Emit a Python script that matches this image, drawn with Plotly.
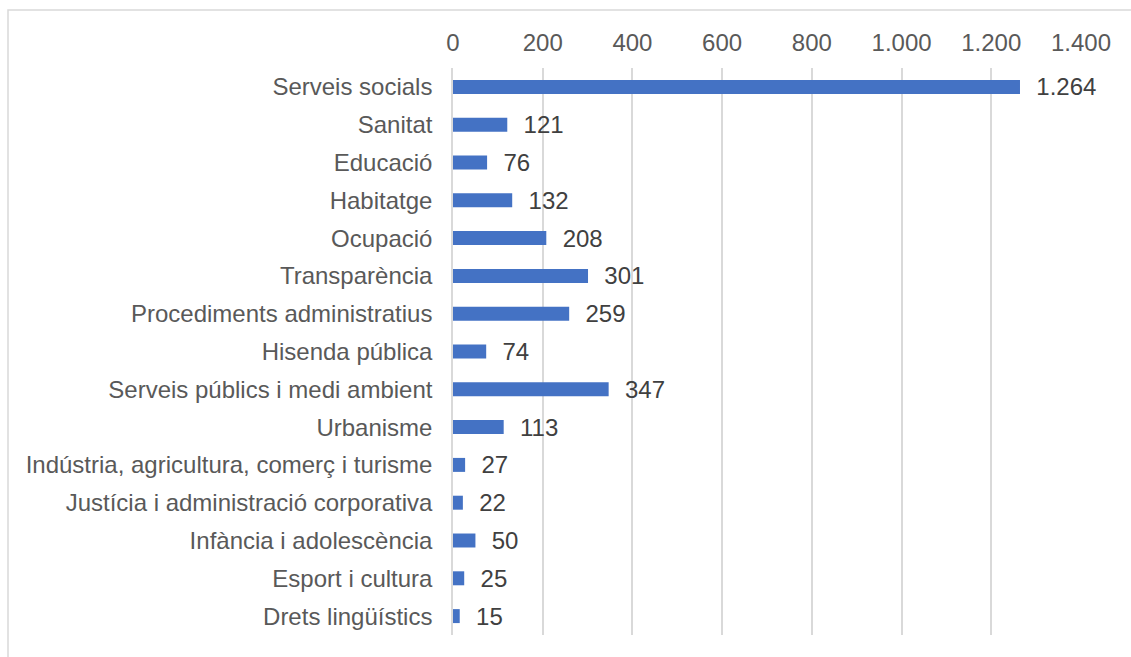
import plotly.graph_objects as go

categories = [
    "Serveis socials", "Sanitat", "Educació", "Habitatge", "Ocupació",
    "Transparència", "Procediments administratius", "Hisenda pública",
    "Serveis públics i medi ambient", "Urbanisme",
    "Indústria, agricultura, comerç i turisme",
    "Justícia i administració corporativa", "Infància i adolescència",
    "Esport i cultura", "Drets lingüístics",
]
values = [1264, 121, 76, 132, 208, 301, 259, 74, 347, 113, 27, 22, 50, 25, 15]
tick_values = [0, 200, 400, 600, 800, 1000, 1200, 1400]

W, H = 1131, 657
L, R, T, B = 453, 50, 68, 22
pw, ph = W - L - R, H - T - B
FS = 24

fig = go.Figure(go.Bar(
    x=values, y=categories, orientation="h",
    marker=dict(color="#4472C4", line=dict(width=0)),
    width=0.37,
    text=values, texttemplate="  %{x:,d}", textposition="outside",
    constraintext="none",
    textfont=dict(family="Liberation Sans, Arial", size=FS, color="#404040"),
    cliponaxis=False,
))

fig.update_layout(
    width=W, height=H,
    margin=dict(l=L, r=R, t=T, b=B),
    paper_bgcolor="white", plot_bgcolor="white",
    separators=",.",
    showlegend=False,
    font=dict(family="Liberation Sans, Arial", size=FS, color="#595959"),
    xaxis=dict(
        side="top", range=[0, 1400], tickvals=tick_values, tickformat=",d",
        showgrid=True, gridcolor="#D9D9D9", gridwidth=1.5,
        zeroline=False, showline=False, ticks="", ticklabelstandoff=11,
        tickfont=dict(size=FS, color="#595959"),
    ),
    yaxis=dict(
        autorange="reversed", showgrid=False, zeroline=False,
        showline=True, linecolor="#D9D9D9", linewidth=1.5,
        ticks="", ticklabelstandoff=14,
        tickfont=dict(size=FS, color="#595959"),
    ),
    shapes=[dict(
        type="rect", xref="paper", yref="paper",
        x0=(8 - L) / pw, x1=(W + 300 - L) / pw,
        y0=-(B + 300) / ph, y1=1 + (T - 10) / ph,
        line=dict(color="#D9D9D9", width=1.5), fillcolor="rgba(0,0,0,0)",
        layer="below",
    )],
)

fig.write_html(
    "out.html",
    config={"displayModeBar": False},
    post_script="document.body.style.margin='0';document.body.style.overflow='hidden';",
)
